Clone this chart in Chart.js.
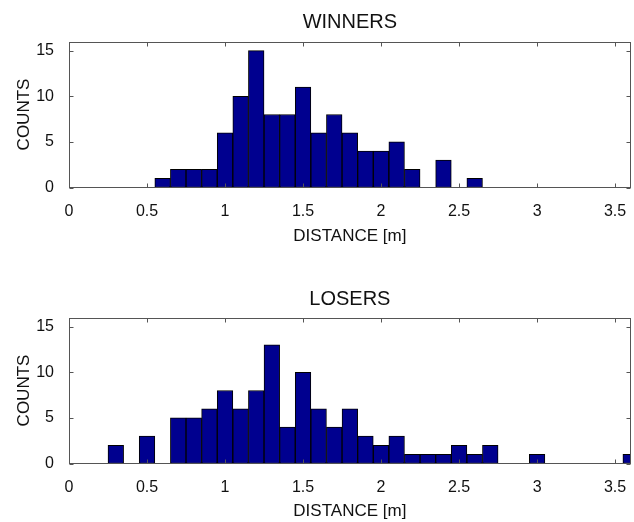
<!DOCTYPE html>
<html lang="en">
<head>
    <meta charset="UTF-8">
    <title>Winners / Losers distance histograms</title>
    <script src="https://cdn.jsdelivr.net/npm/chart.js"></script>
    <style>
        body {
            margin: 0;
            background: #ffffff;
            width: 634px;
            height: 522px;
            overflow: hidden;
            position: relative;
        }
        canvas {
            position: absolute;
            left: 0;
        }
    </style>
</head>
<body>
    <canvas id="winChart" width="634" height="260" style="top:0px"></canvas>
    <canvas id="loseChart" width="634" height="246" style="top:276px"></canvas>

    <script>
        // histogram bins (bin centres, width 0.1 m) and counts
        const winnerBins = [0.6, 0.7, 0.8, 0.9, 1.0, 1.1, 1.2, 1.3, 1.4, 1.5, 1.6, 1.7, 1.8, 1.9, 2.0, 2.1, 2.2, 2.3, 2.4, 2.5, 2.6];
        const winnerCounts = [1, 2, 2, 2, 6, 10, 15, 8, 8, 11, 6, 8, 6, 4, 4, 5, 2, 0, 3, 0, 1];

        const loserBins = [0.3, 0.4, 0.5, 0.6, 0.7, 0.8, 0.9, 1.0, 1.1, 1.2, 1.3, 1.4, 1.5, 1.6, 1.7, 1.8, 1.9, 2.0, 2.1, 2.2, 2.3, 2.4, 2.5, 2.6, 2.7, 2.8, 2.9, 3.0, 3.1, 3.2, 3.3, 3.4, 3.5, 3.6];
        const loserCounts = [2, 0, 3, 0, 5, 5, 6, 8, 6, 8, 13, 4, 10, 6, 4, 6, 3, 2, 3, 1, 1, 1, 2, 1, 2, 0, 0, 1, 0, 0, 0, 0, 0, 1];

        const xTicks = [0, 0.5, 1, 1.5, 2, 2.5, 3, 3.5];
        const yTicks = [0, 5, 10, 15];

        const FONT = "'Liberation Sans', Arial, Helvetica, sans-serif";

        // matlab style axes: box with inward ticks + title above the plot area
        const boxPlugin = {
            id: 'matlabBox',
            afterDraw(chart, args, opts) {
                const ctx = chart.ctx;
                const { left, right, top, bottom } = chart.chartArea;
                const xs = chart.scales.x, ys = chart.scales.y;
                const L = Math.round(left) + 0.5, R = Math.round(right) - 0.5;
                const T = Math.round(top) + 0.5, B = Math.round(bottom) - 0.5;
                ctx.save();
                ctx.strokeStyle = '#555555';
                ctx.lineWidth = 1;
                ctx.strokeRect(L, T, R - L, B - T);
                ctx.beginPath();
                xTicks.forEach(v => {
                    const px = Math.round(xs.getPixelForValue(v)) + 0.5;
                    ctx.moveTo(px, B); ctx.lineTo(px, B - 4);
                    ctx.moveTo(px, T); ctx.lineTo(px, T + 4);
                });
                yTicks.forEach(v => {
                    const py = Math.round(ys.getPixelForValue(v)) + 0.5;
                    ctx.moveTo(L, py); ctx.lineTo(L + 4, py);
                    ctx.moveTo(R, py); ctx.lineTo(R - 4, py);
                });
                ctx.stroke();

                ctx.fillStyle = '#111111';
                ctx.font = '20px ' + FONT;
                ctx.textAlign = 'center';
                ctx.textBaseline = 'middle';
                ctx.fillText(opts.title, (left + right) / 2, opts.titleY);
                ctx.restore();
            }
        };

        function makeChart(id, title, titleY, bins, counts) {
            const canvas = document.getElementById(id);
            const h = canvas.height;
            // empty bins left as null so no flat outline is drawn on the baseline
            const points = bins.map((b, i) => ({ x: b, y: counts[i] === 0 ? null : counts[i] }));

            return new Chart(canvas.getContext('2d'), {
                type: 'bar',
                data: {
                    datasets: [{
                        data: points,
                        backgroundColor: '#00008f',
                        borderColor: '#000000',
                        borderWidth: 1,
                        borderSkipped: false,
                        barPercentage: 1.0,
                        categoryPercentage: 1.0
                    }]
                },
                options: {
                    responsive: false,
                    animation: false,
                    layout: { padding: { top: 41.5, right: 3.3, left: 0, bottom: 0 } },
                    plugins: {
                        legend: { display: false },
                        tooltip: { enabled: false },
                        matlabBox: { title: title, titleY: titleY }
                    },
                    scales: {
                        x: {
                            type: 'linear',
                            min: 0,
                            max: 3.6,
                            offset: false,
                            grid: { display: false, offset: false },
                            border: { display: false },
                            afterBuildTicks: s => { s.ticks = xTicks.map(v => ({ value: v })); },
                            afterFit: s => { s.height = h - 187.5; },
                            ticks: {
                                color: '#111111',
                                padding: 6,
                                maxRotation: 0,
                                autoSkip: false,
                                font: { family: FONT, size: 16, lineHeight: 1.2 },
                                callback: v => String(v)
                            },
                            title: {
                                display: true,
                                text: 'DISTANCE [m]',
                                color: '#111111',
                                font: { family: FONT, size: 17, lineHeight: 1.2 },
                                padding: { top: 0, bottom: Math.max(0, h - 236 - 10.2) }
                            }
                        },
                        y: {
                            min: 0,
                            max: 16,
                            grid: { display: false },
                            border: { display: false },
                            afterBuildTicks: s => { s.ticks = yTicks.map(v => ({ value: v })); },
                            afterFit: s => { s.width = 69; },
                            ticks: {
                                color: '#111111',
                                padding: 7,
                                font: { family: FONT, size: 16, lineHeight: 1.2 }
                            },
                            title: {
                                display: true,
                                text: 'COUNTS',
                                color: '#111111',
                                font: { family: FONT, size: 17, lineHeight: 1.2 },
                                padding: { top: 13.8, bottom: 0 }
                            }
                        }
                    }
                },
                plugins: [boxPlugin]
            });
        }

        var winChart = makeChart('winChart', 'WINNERS', 22, winnerBins, winnerCounts);
        var loseChart = makeChart('loseChart', 'LOSERS', 23.5, loserBins, loserCounts);
    </script>
</body>
</html>
